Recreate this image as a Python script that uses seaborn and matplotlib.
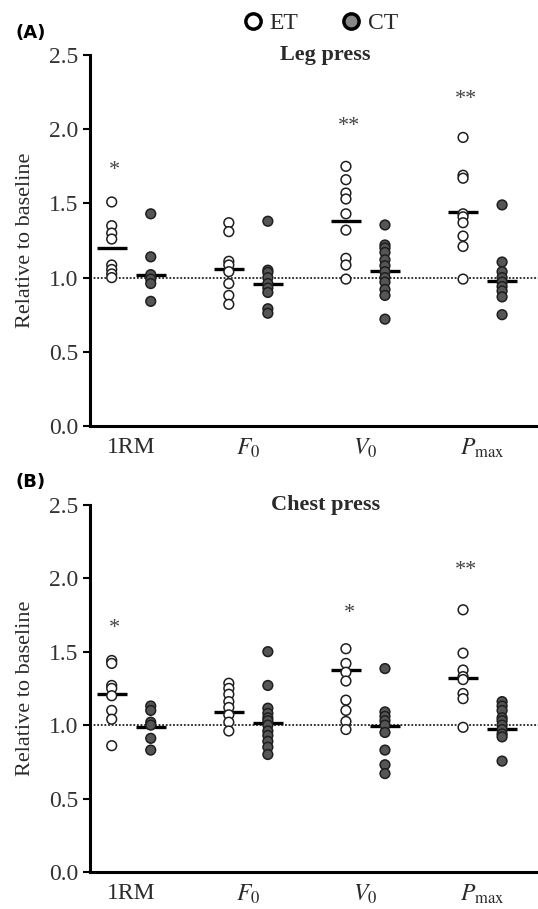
import pandas as pd
import matplotlib.pyplot as plt
import seaborn as sns
from matplotlib.lines import Line2D

# Measures and groups
measures = ["1RM", "F0", "V0", "Pmax"]
tick_labels = ["1RM", r"$F_0$", r"$V_0$", r"$P_{\mathrm{max}}$"]
groups = ["ET", "CT"]

# -------- Leg press (A) --------
leg_et = [
    [1.51, 1.35, 1.30, 1.26, 1.085, 1.055, 1.025, 1.00],
    [1.37, 1.31, 1.11, 1.085, 1.04, 0.96, 0.88, 0.82],
    [1.75, 1.66, 1.57, 1.53, 1.43, 1.32, 1.13, 1.085, 0.99],
    [1.945, 1.69, 1.67, 1.43, 1.41, 1.37, 1.28, 1.21, 0.99],
]
leg_ct = [
    [1.43, 1.14, 1.02, 0.99, 0.96, 0.84],
    [1.38, 1.05, 1.035, 1.00, 0.96, 0.93, 0.90, 0.79, 0.76],
    [1.355, 1.22, 1.20, 1.17, 1.12, 1.08, 1.04, 1.00, 0.97, 0.92, 0.88, 0.72],
    [1.49, 1.105, 1.04, 1.00, 0.97, 0.94, 0.91, 0.87, 0.75],
]
leg_et_mean = [1.20, 1.055, 1.38, 1.44]
leg_ct_mean = [1.02, 0.96, 1.045, 0.98]
leg_stars = ["*", "", "**", "**"]
leg_star_y = [1.72, 0, 2.02, 2.20]

# -------- Chest press (B) --------
chest_et = [
    [1.44, 1.42, 1.27, 1.25, 1.20, 1.10, 1.04, 0.86],
    [1.285, 1.25, 1.21, 1.16, 1.12, 1.07, 1.02, 0.96],
    [1.52, 1.42, 1.36, 1.30, 1.17, 1.10, 1.025, 0.97],
    [1.785, 1.49, 1.375, 1.33, 1.31, 1.215, 1.18, 0.985],
]
chest_ct = [
    [1.13, 1.10, 1.02, 1.00, 0.91, 0.83],
    [1.50, 1.27, 1.115, 1.08, 1.05, 1.03, 1.00, 0.96, 0.93, 0.89, 0.85, 0.80],
    [1.385, 1.09, 1.06, 1.03, 1.00, 0.95, 0.83, 0.73, 0.67],
    [1.16, 1.13, 1.10, 1.05, 1.03, 1.00, 0.97, 0.94, 0.92, 0.755],
]
chest_et_mean = [1.215, 1.09, 1.375, 1.32]
chest_ct_mean = [0.985, 1.015, 0.995, 0.975]
chest_stars = ["*", "", "*", "**"]
chest_star_y = [1.66, 0, 1.76, 2.05]

# slot order: ET, CT, gap for each measure
order = []
for i, m in enumerate(measures):
    order += [f"{m} ET", f"{m} CT", f"gap{i}"]
order = order[:-1]

sns.set_style("ticks")
plt.rcParams["font.family"] = ["Liberation Serif", "DejaVu Serif"]
plt.rcParams["mathtext.fontset"] = "stix"

TXT = "#2a2a2a"


def build_frames(et, ct, et_mean, ct_mean):
    rows = []
    for m, vals in zip(measures, et):
        rows += [{"slot": f"{m} ET", "group": "ET", "value": v} for v in vals]
    for m, vals in zip(measures, ct):
        rows += [{"slot": f"{m} CT", "group": "CT", "value": v} for v in vals]
    means = [{"slot": f"{m} ET", "value": v} for m, v in zip(measures, et_mean)]
    means += [{"slot": f"{m} CT", "value": v} for m, v in zip(measures, ct_mean)]
    return pd.DataFrame(rows), pd.DataFrame(means)


def draw_panel(ax, et, ct, et_mean, ct_mean, stars, star_y, title, letter, letter_y):
    df, mean_df = build_frames(et, ct, et_mean, ct_mean)

    ax.axhline(1.0, ls=(0, (1, 1)), color="#222222", lw=1.3, zorder=1)

    sns.stripplot(
        data=df, x="slot", y="value", hue="group", order=order,
        hue_order=groups, palette={"ET": "white", "CT": "#555555"},
        jitter=False, dodge=False, size=7, edgecolor="#1e1e1e",
        linewidth=1.1, legend=False, ax=ax, zorder=3,
    )
    sns.pointplot(
        data=mean_df, x="slot", y="value", order=order, color="black",
        markers="_", linestyles="none", errorbar=None,
        markersize=21, markeredgewidth=2.4, ax=ax,
    )

    for m, s, y in zip(measures, stars, star_y):
        if s:
            ax.text(order.index(f"{m} ET") + 0.08, y, s, ha="center",
                    va="center", fontsize=16, color="#444444")

    ax.set_ylim(0, 2.5)
    ax.set_xlim(-0.56, 10.92)
    ax.set_yticks([0, 0.5, 1.0, 1.5, 2.0, 2.5])
    ax.set_yticklabels(["0.0", "0.5", "1.0", "1.5", "2.0", "2.5"])
    ax.set_xticks([order.index(f"{m} ET") + 0.5 for m in measures])
    ax.set_xticklabels(tick_labels)
    ax.tick_params(axis="y", direction="out", length=5, width=1.5,
                   labelsize=17, colors="black", labelcolor="#333333", pad=3)
    ax.tick_params(axis="x", length=0, labelsize=17, labelcolor=TXT, pad=8)
    ax.set_xlabel("")
    ax.set_ylabel("Relative to baseline", fontsize=16, color=TXT, labelpad=10)

    sns.despine(ax=ax)
    for side in ["left", "bottom"]:
        ax.spines[side].set_linewidth(2.2)
        ax.spines[side].set_color("black")

    ax.text(0.525, 1.0, title, transform=ax.transAxes, ha="center",
            va="center", fontsize=16, fontweight="bold", color=TXT)
    fig.text(0.028, letter_y, letter, fontsize=13, fontweight="bold",
             family="DejaVu Sans", color="black", va="center", ha="left")


fig = plt.figure(figsize=(5.38, 9.09), dpi=100)
ax_a = fig.add_axes([0.167, 0.5314, 0.833, 0.408])
ax_b = fig.add_axes([0.167, 0.0407, 0.833, 0.404])

draw_panel(ax_a, leg_et, leg_ct, leg_et_mean, leg_ct_mean, leg_stars,
           leg_star_y, "Leg press", "(A)", 1 - 33 / 909)
draw_panel(ax_b, chest_et, chest_ct, chest_et_mean, chest_ct_mean, chest_stars,
           chest_star_y, "Chest press", "(B)", 1 - 482 / 909)

handles = [
    Line2D([], [], marker="o", ls="none", markersize=11, markerfacecolor="white",
           markeredgecolor="black", markeredgewidth=2.5),
    Line2D([], [], marker="o", ls="none", markersize=11, markerfacecolor="#888888",
           markeredgecolor="black", markeredgewidth=2.5),
]
fig.legend(handles, groups, loc="center", bbox_to_anchor=(0.594, 1 - 23 / 909),
           ncol=2, frameon=False, fontsize=17, handlelength=1.0,
           handletextpad=0.2, columnspacing=1.75, labelcolor=TXT)

fig.savefig("out.png", dpi=100)
plt.close(fig)
